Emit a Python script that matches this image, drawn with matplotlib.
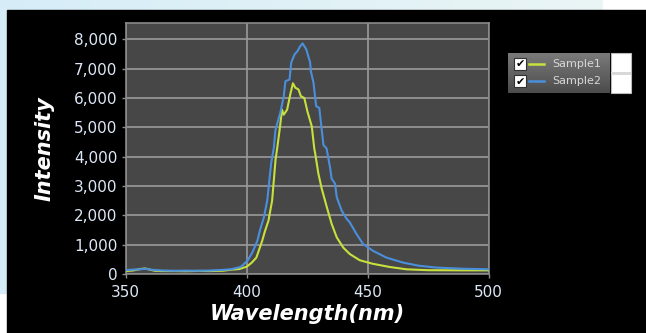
import numpy as np
import matplotlib
matplotlib.use("Agg")
import matplotlib.pyplot as plt
from matplotlib.patches import Rectangle
from matplotlib.colors import LinearSegmentedColormap

# ---- data ----
s1_wl = [350, 353, 356, 358, 360, 362, 365, 370, 375, 380, 385, 390, 394, 397, 400, 402, 404, 405,
         406.4, 407.5, 409, 410.5, 411.9, 412.6, 413.6, 414.6, 415.3, 416.7, 418, 419.1, 420.1, 421.4,
         422.4, 423.8, 425.1, 426.9, 427.9, 428.3, 429.6, 431, 433.1, 435.1, 437.2, 439.9, 442.6,
         446.7, 452, 459, 466, 475, 489, 500]
s1_int = [100, 120, 170, 190, 150, 110, 100, 100, 95, 105, 100, 110, 150, 170, 250, 380, 560, 800,
          1130, 1450, 1820, 2500, 3880, 4290, 4910, 5600, 5430, 5600, 6120, 6500, 6350, 6290,
          6060, 6000, 5540, 5030, 4290, 4110, 3430, 2910, 2280, 1710, 1250, 900, 680,
          470, 350, 240, 160, 130, 125, 125]

s2_wl = [350, 353, 356, 358, 360, 365, 370, 375, 380, 385, 390, 393.4, 397.5, 400.3, 402.3, 404.4,
         405.5, 407.1, 408.5, 410.1, 411.2, 411.9, 413.9, 415.3, 416, 417.7, 418.4, 419.8, 421, 422,
         423.1, 424.6, 426.2, 426.5, 427.6, 428.7, 430, 431.7, 433, 434.4, 435.1, 436.5, 437.2,
         439.2, 441.3, 442.6, 445.4, 448.1, 452.2, 457.7, 464.5, 471.3, 478.2, 489, 500]
s2_int = [130, 150, 160, 180, 150, 120, 110, 115, 110, 120, 140, 160, 240, 450, 730, 1130,
          1500, 1930, 2510, 3770, 4300, 4910, 5500, 6060, 6570, 6630, 7210, 7490, 7600, 7750,
          7860, 7660, 7220, 6920, 6520, 5720, 5660, 4400, 4280, 3650, 3250, 3080, 2620,
          2170, 1880, 1760, 1360, 1020, 790, 560, 390, 280, 220, 180, 160]

series_names = ["Sample1", "Sample2"]
series_colors = ["#c8e03c", "#4a8fdc"]
x_ticks = [350, 400, 450, 500]
y_ticks = [0, 1000, 2000, 3000, 4000, 5000, 6000, 7000, 8000]

W, H = 646, 333
fig = plt.figure(figsize=(W / 100, H / 100), dpi=100, facecolor="black")

# background decorations (figure pixel coords)
bg = fig.add_axes([0, 0, 1, 1], zorder=-10)
bg.axis("off")
bg.add_patch(Rectangle((0, 0), W, H, color="white", zorder=0))
grad = np.linspace(0, 1, 256)[None, :]
cm = LinearSegmentedColormap.from_list("lb", ["#d6edf8", "#eaf5f5"])
bg.imshow(grad, cmap=cm, extent=(0, 603, 10, 0), aspect="auto", zorder=1)
bg.add_patch(Rectangle((0, 0), 7, 293, color="#d6edf8", zorder=1))
bg.add_patch(Rectangle((7, 10), W - 7, H - 10, color="black", zorder=2))
bg.set_xlim(0, W)
bg.set_ylim(H, 0)

# main axes
x0, x1 = 125.7, 488.7
y_top, y_bot = 22.7, 274
ax = fig.add_axes([x0 / W, 1 - y_bot / H, (x1 - x0) / W, (y_bot - y_top) / H])
ax.set_facecolor("#474747")
ax.plot(s1_wl, s1_int, color=series_colors[0], lw=1.5, zorder=3)
ax.plot(s2_wl, s2_int, color=series_colors[1], lw=1.5, zorder=3)
ax.set_xlim(350, 500)
ax.set_ylim(0, 8566)
ax.set_xticks(x_ticks)
ax.set_yticks(y_ticks)
ax.set_yticklabels([f"{v:,}" for v in y_ticks])
ax.grid(True, color="#9a9a9a", lw=1.2)
ax.set_axisbelow(True)
for s in ax.spines.values():
    s.set_color("#8a8a8a")
    s.set_linewidth(1.2)
ax.tick_params(colors="#8a8a8a", labelcolor="#dde8f6", labelsize=11, length=3, width=1)
ax.tick_params(axis="x", pad=5)
ax.tick_params(axis="y", pad=3)
ax.set_xlabel("Wavelength(nm)", color="white", fontsize=15, fontweight="bold", style="italic", labelpad=3)
ax.set_ylabel("Intensity", color="white", fontsize=15, fontweight="bold", style="italic", labelpad=14)

# legend (custom)
lg = fig.add_axes([0, 0, 1, 1], zorder=5)
lg.axis("off")
lgrad = np.linspace(0, 1, 64)[:, None]
cm2 = LinearSegmentedColormap.from_list("lg", ["#7a7a7a", "#4c4c4c"])
lg.imshow(lgrad, cmap=cm2, extent=(508, 610, 93, 53), aspect="auto", zorder=1)
lg.add_patch(Rectangle((611, 53), 20, 40, facecolor="white", edgecolor="#bbbbbb", lw=0.8, zorder=2))
lg.add_patch(Rectangle((611, 72), 20, 3, facecolor="#d8d8d8", edgecolor="none", zorder=3))
for i, (name, col) in enumerate(zip(series_names, series_colors)):
    yc = 64 + i * 17
    lg.add_patch(Rectangle((514, yc - 6), 12, 12, facecolor="white", edgecolor="#333333", lw=0.8, zorder=3))
    lg.text(520, yc + 0.5, "\u2714", color="black", fontsize=8, ha="center", va="center", zorder=4)
    lg.plot([529, 544], [yc, yc], color=col, lw=1.8, zorder=3)
    lg.text(552, yc, name, color="#d8d8d8", fontsize=8, ha="left", va="center", zorder=4)
lg.set_xlim(0, W)
lg.set_ylim(H, 0)

fig.savefig("out.png", dpi=100, facecolor="black")
